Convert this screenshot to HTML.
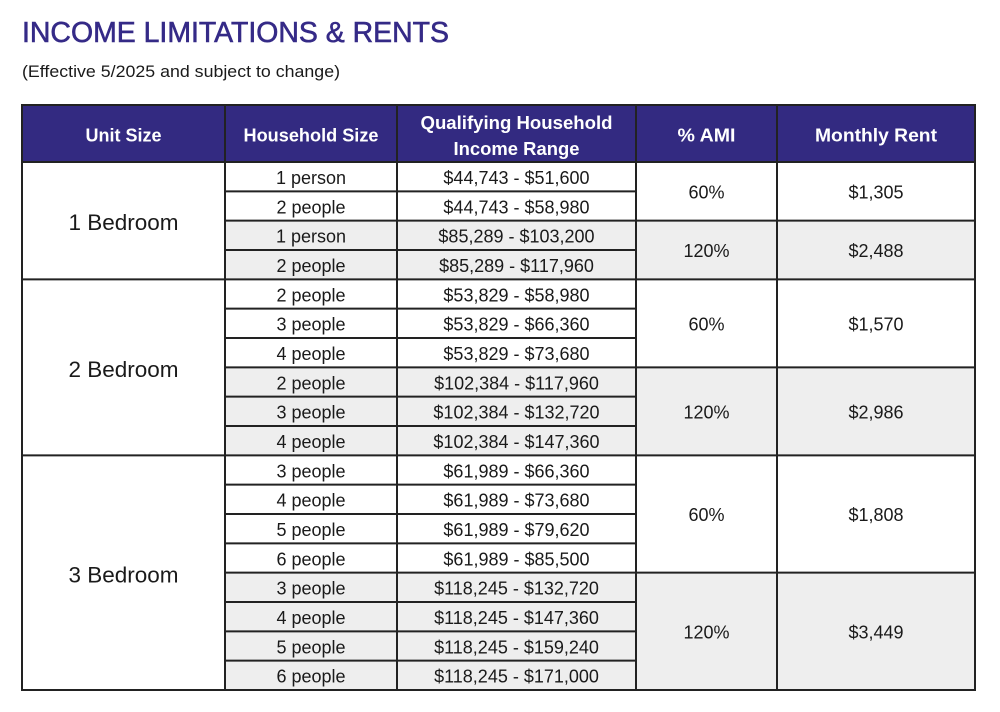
<!DOCTYPE html>
<html><head><meta charset="utf-8"><style>
html,body{margin:0;padding:0;background:#fff;}
svg{display:block;}
.t{font-family:"Liberation Sans",Arial,sans-serif;font-size:18px;fill:#1a1a1a;text-anchor:middle;}
.h{font-family:"Liberation Sans",Arial,sans-serif;font-size:18px;font-weight:bold;fill:#fff;text-anchor:middle;}
</style></head><body>
<svg width="1000" height="712" viewBox="0 0 1000 712" xmlns="http://www.w3.org/2000/svg">
<rect width="1000" height="712" fill="#fff"/>
<text x="22" y="42" font-family="Liberation Sans, Arial, sans-serif" font-size="29" fill="#352a87" stroke="#352a87" stroke-width="0.6" textLength="427" lengthAdjust="spacingAndGlyphs">INCOME LIMITATIONS &amp; RENTS</text>
<text x="22" y="77" font-family="Liberation Sans, Arial, sans-serif" font-size="17" fill="#1a1a1a" textLength="318" lengthAdjust="spacingAndGlyphs">(Effective 5/2025 and subject to change)</text>

<!-- header -->
<rect x="22" y="105" width="953" height="57" fill="#332a81"/>
<!-- gray blocks -->
<rect x="225" y="220.67" width="750" height="58.67" fill="#eeeeee"/>
<rect x="225" y="367.33" width="750" height="88" fill="#eeeeee"/>
<rect x="225" y="572.67" width="750" height="117.33" fill="#eeeeee"/>

<g stroke="#222" stroke-width="2">
<line x1="21" y1="105" x2="976" y2="105"/>
<line x1="21" y1="162" x2="976" y2="162"/>
<line x1="21" y1="279.33" x2="976" y2="279.33"/>
<line x1="21" y1="455.33" x2="976" y2="455.33"/>
<line x1="21" y1="690" x2="976" y2="690"/>
<line x1="225" y1="220.67" x2="975" y2="220.67"/>
<line x1="225" y1="367.33" x2="975" y2="367.33"/>
<line x1="225" y1="572.67" x2="975" y2="572.67"/>
<line x1="225" y1="191.33" x2="636" y2="191.33"/>
<line x1="225" y1="250" x2="636" y2="250"/>
<line x1="225" y1="308.67" x2="636" y2="308.67"/>
<line x1="225" y1="338" x2="636" y2="338"/>
<line x1="225" y1="396.67" x2="636" y2="396.67"/>
<line x1="225" y1="426" x2="636" y2="426"/>
<line x1="225" y1="484.67" x2="636" y2="484.67"/>
<line x1="225" y1="514" x2="636" y2="514"/>
<line x1="225" y1="543.33" x2="636" y2="543.33"/>
<line x1="225" y1="602" x2="636" y2="602"/>
<line x1="225" y1="631.33" x2="636" y2="631.33"/>
<line x1="225" y1="660.67" x2="636" y2="660.67"/>
<line x1="22" y1="104" x2="22" y2="691"/>
<line x1="225" y1="104" x2="225" y2="691"/>
<line x1="397" y1="104" x2="397" y2="691"/>
<line x1="636" y1="104" x2="636" y2="691"/>
<line x1="777" y1="104" x2="777" y2="691"/>
<line x1="975" y1="104" x2="975" y2="691"/>
</g>

<text class="h" x="123.5" y="141.5" textLength="76" lengthAdjust="spacingAndGlyphs">Unit Size</text>
<text class="h" x="311" y="141.5" textLength="135" lengthAdjust="spacingAndGlyphs">Household Size</text>
<text class="h" x="516.5" y="129" textLength="192" lengthAdjust="spacingAndGlyphs">Qualifying Household</text>
<text class="h" x="516.5" y="155" textLength="126" lengthAdjust="spacingAndGlyphs">Income Range</text>
<text class="h" x="706.5" y="141.5" textLength="58" lengthAdjust="spacingAndGlyphs">% AMI</text>
<text class="h" x="876" y="141.5" textLength="122" lengthAdjust="spacingAndGlyphs">Monthly Rent</text>

<text class="t" x="123.5" y="230" style="font-size:22.5px">1 Bedroom</text>
<text class="t" x="123.5" y="377" style="font-size:22.5px">2 Bedroom</text>
<text class="t" x="123.5" y="582.5" style="font-size:22.5px">3 Bedroom</text>

<text class="t" x="311" y="184">1 person</text>
<text class="t" x="311" y="213.3">2 people</text>
<text class="t" x="311" y="242.7">1 person</text>
<text class="t" x="311" y="272">2 people</text>
<text class="t" x="311" y="301.3">2 people</text>
<text class="t" x="311" y="330.7">3 people</text>
<text class="t" x="311" y="360">4 people</text>
<text class="t" x="311" y="389.3">2 people</text>
<text class="t" x="311" y="418.7">3 people</text>
<text class="t" x="311" y="448">4 people</text>
<text class="t" x="311" y="477.3">3 people</text>
<text class="t" x="311" y="506.7">4 people</text>
<text class="t" x="311" y="536">5 people</text>
<text class="t" x="311" y="565.3">6 people</text>
<text class="t" x="311" y="594.7">3 people</text>
<text class="t" x="311" y="624">4 people</text>
<text class="t" x="311" y="653.3">5 people</text>
<text class="t" x="311" y="682.7">6 people</text>

<text class="t" x="516.5" y="184">$44,743 - $51,600</text>
<text class="t" x="516.5" y="213.3">$44,743 - $58,980</text>
<text class="t" x="516.5" y="242.7">$85,289 - $103,200</text>
<text class="t" x="516.5" y="272">$85,289 - $117,960</text>
<text class="t" x="516.5" y="301.3">$53,829 - $58,980</text>
<text class="t" x="516.5" y="330.7">$53,829 - $66,360</text>
<text class="t" x="516.5" y="360">$53,829 - $73,680</text>
<text class="t" x="516.5" y="389.3">$102,384 - $117,960</text>
<text class="t" x="516.5" y="418.7">$102,384 - $132,720</text>
<text class="t" x="516.5" y="448">$102,384 - $147,360</text>
<text class="t" x="516.5" y="477.3">$61,989 - $66,360</text>
<text class="t" x="516.5" y="506.7">$61,989 - $73,680</text>
<text class="t" x="516.5" y="536">$61,989 - $79,620</text>
<text class="t" x="516.5" y="565.3">$61,989 - $85,500</text>
<text class="t" x="516.5" y="594.7">$118,245 - $132,720</text>
<text class="t" x="516.5" y="624">$118,245 - $147,360</text>
<text class="t" x="516.5" y="653.3">$118,245 - $159,240</text>
<text class="t" x="516.5" y="682.7">$118,245 - $171,000</text>

<text class="t" x="706.5" y="198.5">60%</text>
<text class="t" x="706.5" y="257">120%</text>
<text class="t" x="706.5" y="330.5">60%</text>
<text class="t" x="706.5" y="418.5">120%</text>
<text class="t" x="706.5" y="521">60%</text>
<text class="t" x="706.5" y="638.5">120%</text>

<text class="t" x="876" y="198.5">$1,305</text>
<text class="t" x="876" y="257">$2,488</text>
<text class="t" x="876" y="330.5">$1,570</text>
<text class="t" x="876" y="418.5">$2,986</text>
<text class="t" x="876" y="521">$1,808</text>
<text class="t" x="876" y="638.5">$3,449</text>
</svg>
</body></html>
